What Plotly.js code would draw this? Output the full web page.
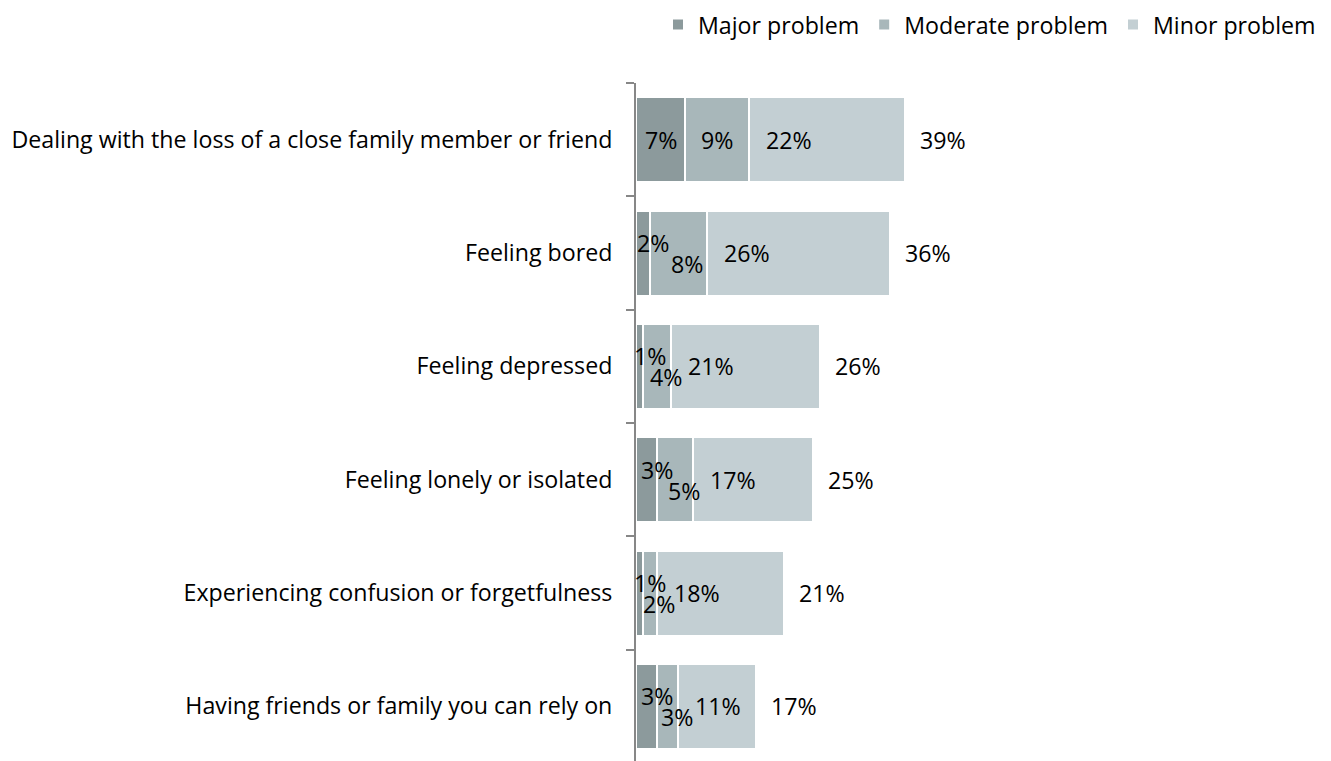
<!DOCTYPE html>
<html>
<head>
<meta charset="utf-8">
<script src="https://cdn.plot.ly/plotly-3.0.1.min.js"></script>
<style>
  html, body { margin: 0; padding: 0; overflow: hidden; background: #ffffff; }
  #chart { width: 1331px; height: 763px; }
</style>
</head>
<body>
<div id="chart"></div>
<script>
// ---- data ----
var categories = [
  "Dealing with the loss of a close family member or friend",
  "Feeling bored",
  "Feeling depressed",
  "Feeling lonely or isolated",
  "Experiencing confusion or forgetfulness",
  "Having friends or family you can rely on"
];
var seriesNames = ["Major problem", "Moderate problem", "Minor problem"];
var major = [7, 2, 1, 3, 1, 3];
var moderate = [9, 8, 4, 5, 2, 3];
var minor = [22, 26, 21, 17, 18, 11];
var totals = [39, 36, 26, 25, 21, 17];

// ---- styles ----
var colors = ["#8C9A9C", "#A8B7BA", "#C3CFD3"];
var FONT = "Open Sans, sans-serif";
var FS = 23.2;

var seriesValues = [major, moderate, minor];
var traces = seriesValues.map(function (vals, i) {
  return {
    type: "bar",
    orientation: "h",
    name: seriesNames[i],
    x: vals,
    y: categories,
    marker: { color: colors[i], line: { color: "#ffffff", width: 2 } },
    hoverinfo: "x+name"
  };
});

var annotations = [];
function pct(v) { return v + "%"; }
categories.forEach(function (cat, k) {
  var narrow = major[k] < 5;
  var base = { y: cat, showarrow: false, font: { family: FONT, size: FS, color: "#000000" }, xref: "x", yref: "y" };
  // major label
  annotations.push(Object.assign({}, base, {
    x: major[k] / 2, text: pct(major[k]), xanchor: "center",
    xshift: narrow ? 10 : 0, yshift: narrow ? 10 : 0
  }));
  // moderate label
  annotations.push(Object.assign({}, base, {
    x: major[k] + moderate[k] / 2, text: pct(moderate[k]), xanchor: "center",
    xshift: narrow ? 9 : 0, yshift: narrow ? -11 : 0
  }));
  // minor label
  annotations.push(Object.assign({}, base, {
    x: major[k] + moderate[k], text: pct(minor[k]), xanchor: "center", xshift: 40
  }));
  // total label
  annotations.push(Object.assign({}, base, {
    x: major[k] + moderate[k] + minor[k], text: pct(totals[k]), xanchor: "left", xshift: 13
  }));
});

var layout = {
  width: 1331,
  height: 763,
  margin: { l: 636, r: 10, t: 83, b: 0, pad: 0 },
  paper_bgcolor: "#ffffff",
  plot_bgcolor: "#ffffff",
  barmode: "stack",
  bargap: 0.25,
  font: { family: FONT, size: FS, color: "#000000" },
  showlegend: true,
  legend: {
    orientation: "h",
    x: 1.0, xanchor: "right",
    y: 1.0853, yanchor: "middle",
    traceorder: "normal",
    font: { family: FONT, size: FS, color: "#000000" },
    bgcolor: "rgba(0,0,0,0)"
  },
  xaxis: {
    visible: false,
    range: [0, 96.9],
    fixedrange: true
  },
  yaxis: {
    type: "category",
    autorange: "reversed",
    showline: true,
    linecolor: "#878787",
    linewidth: 2,
    ticks: "outside",
    tickson: "boundaries",
    ticklen: 8,
    tickwidth: 2,
    tickcolor: "#878787",
    ticklabelstandoff: 17,
    showgrid: false,
    zeroline: false,
    fixedrange: true,
    tickfont: { family: FONT, size: FS, color: "#000000" }
  },
  annotations: annotations
};

Plotly.newPlot("chart", traces, layout, { displayModeBar: false, staticPlot: true });
</script>
</body>
</html>
